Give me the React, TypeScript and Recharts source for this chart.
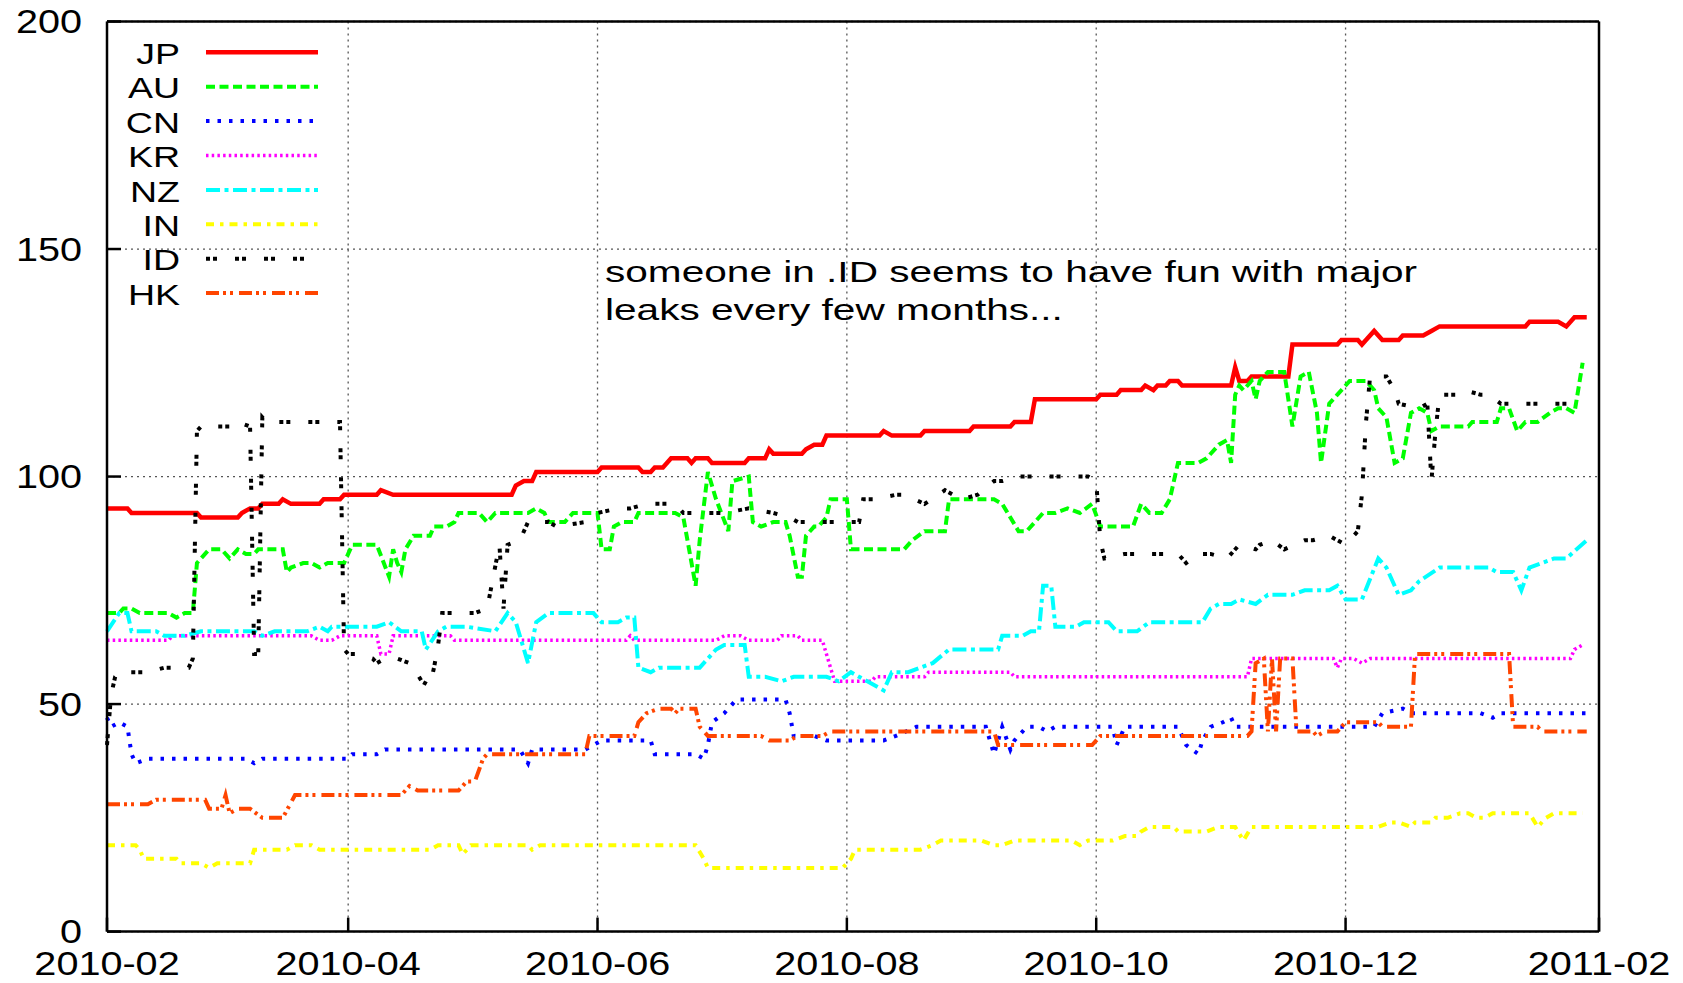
import { LineChart, Line, XAxis, YAxis, CartesianGrid } from "recharts";

// x = days since 2010-02-01
const monthTicks = [0, 59, 120, 181, 242, 303, 365];
const monthLabels = ["2010-02", "2010-04", "2010-06", "2010-08", "2010-10", "2010-12", "2011-02"];
const valueTicks = [0, 50, 100, 150, 200];

const JP: [number, number][] = [
  [0, 93], [5, 93], [6, 92], [22, 92], [23, 91], [32, 91], [33, 92], [35, 93], [37, 93], [38, 94], [42, 94],
  [43, 95], [45, 94], [52, 94], [53, 95], [57, 95], [58, 96], [66, 96], [67, 97], [70, 96], [99, 96], [100, 98],
  [102, 99], [104, 99], [105, 101], [120, 101], [121, 102], [130, 102], [131, 101], [133, 101], [134, 102],
  [136, 102], [138, 104], [142, 104], [143, 103], [144, 104], [147, 104], [148, 103], [156, 103], [157, 104],
  [161, 104], [162, 106], [163, 105], [170, 105], [171, 106], [173, 107], [175, 107], [176, 109], [189, 109],
  [190, 110], [192, 109], [199, 109], [200, 110], [211, 110], [212, 111], [221, 111], [222, 112], [226, 112],
  [227, 117], [242, 117], [243, 118], [247, 118], [248, 119], [253, 119], [254, 120], [256, 119], [257, 120],
  [259, 120], [260, 121], [262, 121], [263, 120], [275, 120], [276, 124], [277, 121], [279, 121], [280, 122],
  [289, 122], [290, 129], [301, 129], [302, 130], [306, 130], [307, 129], [308, 130], [310, 132], [312, 130],
  [316, 130], [317, 131], [322, 131], [324, 132], [326, 133], [347, 133], [348, 134], [355, 134], [357, 133],
  [359, 135], [362, 135],
];

const AU: [number, number][] = [
  [0, 70], [3, 70], [4, 71], [6, 71], [8, 70], [15, 70], [17, 69], [19, 70], [21, 70], [22, 81], [23, 82],
  [25, 84], [28, 84], [30, 82], [32, 84], [34, 83], [36, 83], [37, 84], [43, 84], [44, 79], [45, 80], [48, 81],
  [50, 81], [52, 80], [54, 81], [58, 81], [59, 83], [60, 85], [66, 85], [69, 78], [70, 84], [71, 81], [72, 79],
  [73, 84], [75, 87], [79, 87], [80, 89], [83, 89], [85, 90], [86, 92], [91, 92], [93, 90], [95, 92], [103, 92],
  [105, 93], [107, 92], [108, 90], [112, 90], [114, 92], [120, 92], [121, 84], [123, 84], [124, 89], [126, 90],
  [129, 90], [130, 92], [139, 92], [141, 91], [144, 76], [145, 86], [147, 101], [149, 95], [152, 88], [153, 99],
  [157, 100], [158, 90], [160, 89], [163, 90], [166, 90], [167, 87], [169, 78], [170, 78], [171, 87], [173, 89],
  [174, 89], [176, 91], [177, 95], [181, 95], [182, 84], [184, 84], [195, 84], [197, 86], [200, 88], [205, 88],
  [206, 95], [217, 95], [219, 94], [223, 88], [225, 88], [227, 90], [229, 92], [232, 92], [235, 93], [238, 92],
  [241, 94], [243, 89], [251, 89], [253, 94], [254, 93], [255, 92], [258, 92], [260, 95], [262, 103], [267, 103],
  [269, 104], [272, 107], [274, 108], [275, 103], [276, 118], [277, 120], [278, 119], [280, 121], [281, 117],
  [282, 121], [284, 123], [288, 123], [289, 117], [290, 111], [292, 122], [294, 123], [296, 114], [297, 103],
  [299, 116], [301, 118], [304, 121], [308, 121], [310, 119], [311, 115], [313, 113], [315, 103], [317, 104],
  [319, 114], [321, 115], [323, 114], [324, 110], [326, 111], [333, 111], [334, 112], [340, 112], [341, 115],
  [343, 115], [345, 110], [347, 112], [350, 112], [353, 114], [355, 115], [357, 115], [359, 114], [361, 125],
];

const CN: [number, number][] = [
  [0, 47], [1, 45], [3, 46], [5, 45], [6, 39], [7, 37], [10, 38], [34, 38], [36, 37], [38, 38], [59, 38],
  [60, 39], [66, 39], [68, 40], [86, 40], [101, 40], [103, 37], [104, 40], [117, 40], [119, 41], [121, 42],
  [133, 42], [134, 39], [144, 39], [146, 38], [147, 41], [148, 46], [151, 48], [153, 50], [154, 51], [166, 51],
  [167, 48], [168, 43], [173, 43], [176, 42], [190, 42], [193, 43], [198, 45], [215, 45], [217, 39], [219, 45],
  [221, 40], [222, 42], [225, 45], [228, 45], [230, 44], [232, 45], [246, 45], [247, 41], [249, 45], [262, 45],
  [264, 41], [267, 39], [268, 42], [270, 45], [273, 46], [275, 47], [276, 45], [310, 45], [312, 48], [317, 49],
  [319, 48], [336, 48], [339, 47], [341, 48], [362, 48],
];

const KR: [number, number][] = [
  [0, 64], [15, 64], [16, 65], [50, 65], [52, 64], [55, 64], [57, 65], [66, 65], [67, 61], [69, 61], [70, 65],
  [84, 65], [85, 64], [127, 64], [128, 65], [129, 64], [149, 64], [151, 65], [155, 65], [157, 64], [164, 64],
  [165, 65], [169, 65], [170, 64], [175, 64], [177, 58], [178, 55], [187, 55], [188, 56], [200, 56], [201, 57],
  [221, 57], [222, 56], [279, 56], [280, 60], [300, 60], [301, 58], [302, 60], [305, 60], [307, 59], [309, 60],
  [358, 60], [359, 62], [361, 63],
];

const NZ: [number, number][] = [
  [0, 66], [3, 70], [5, 70], [6, 66], [8, 66], [12, 66], [14, 65], [19, 65], [23, 66], [36, 66], [38, 65],
  [41, 66], [49, 66], [52, 67], [54, 66], [55, 67], [66, 67], [69, 68], [72, 66], [77, 66], [78, 62], [81, 66],
  [83, 67], [88, 67], [95, 66], [98, 70], [100, 68], [103, 59], [105, 68], [108, 70], [119, 70], [121, 68],
  [125, 68], [127, 69], [129, 69], [130, 58], [133, 57], [135, 58], [145, 58], [149, 62], [151, 63], [156, 63],
  [157, 56], [161, 56], [165, 55], [168, 56], [176, 56], [179, 55], [182, 57], [190, 53], [192, 57], [196, 57],
  [199, 58], [202, 59], [206, 62], [218, 62], [219, 65], [224, 65], [226, 66], [228, 66], [229, 76], [231, 76],
  [232, 67], [234, 67], [237, 67], [239, 68], [245, 68], [247, 66], [252, 66], [255, 68], [268, 68], [270, 71],
  [272, 72], [275, 72], [277, 73], [281, 72], [284, 74], [290, 74], [293, 75], [299, 75], [301, 76], [303, 73],
  [307, 73], [311, 82], [313, 80], [316, 74], [319, 75], [321, 77], [326, 80], [331, 80], [338, 80], [340, 79],
  [344, 79], [346, 75], [348, 80], [351, 81], [354, 82], [357, 82], [362, 86],
];

const IN: [number, number][] = [
  [0, 19], [7, 19], [8, 18], [9, 16], [17, 16], [18, 15], [23, 15], [25, 14], [27, 15], [35, 15], [36, 18],
  [44, 18], [46, 19], [50, 19], [52, 18], [79, 18], [81, 19], [86, 19], [87, 17], [89, 19], [103, 19], [104, 18],
  [106, 19], [144, 19], [146, 16], [147, 14], [180, 14], [182, 16], [183, 18], [199, 18], [202, 19], [204, 20],
  [214, 20], [217, 19], [219, 19], [222, 20], [236, 20], [238, 19], [240, 20], [246, 20], [249, 21], [252, 21],
  [253, 22], [255, 23], [261, 23], [262, 22], [269, 22], [272, 23], [276, 23], [278, 20], [280, 23], [311, 23],
  [314, 24], [316, 24], [319, 23], [320, 24], [324, 24], [325, 25], [328, 25], [331, 26], [333, 26], [335, 25],
  [337, 25], [339, 26], [348, 26], [350, 23], [352, 25], [354, 26], [361, 26],
];

const ID: [number, number][] = [
  [0, 41], [1, 52], [2, 56], [3, 57], [10, 57], [14, 58], [20, 58], [21, 60], [22, 110], [23, 111], [31, 111],
  [32, 112], [35, 111], [36, 61], [37, 61], [38, 113], [39, 112], [57, 112], [58, 62], [59, 61], [61, 61],
  [65, 60], [66, 59], [68, 60], [71, 60], [74, 59], [75, 58], [77, 55], [79, 54], [80, 58], [81, 63], [82, 70],
  [90, 70], [93, 71], [96, 85], [97, 71], [98, 85], [101, 86], [103, 90], [108, 90], [110, 89], [117, 90],
  [120, 92], [125, 93], [128, 93], [132, 94], [139, 94], [141, 92], [151, 92], [157, 93], [163, 92], [167, 91],
  [169, 90], [184, 90], [185, 95], [188, 95], [193, 96], [195, 96], [200, 94], [205, 97], [209, 95], [213, 96],
  [217, 99], [219, 99], [223, 100], [240, 100], [242, 99], [243, 86], [244, 82], [249, 83], [262, 83],
  [264, 81], [267, 83], [270, 83], [274, 82], [277, 85], [281, 84], [282, 85], [285, 86], [288, 84], [293, 86],
  [295, 86], [299, 87], [303, 85], [304, 86], [306, 88], [307, 96], [308, 112], [309, 122], [313, 122],
  [315, 119], [316, 116], [321, 115], [323, 116], [324, 99], [325, 110], [326, 118], [330, 118], [332, 119],
  [336, 118], [338, 118], [341, 116], [361, 116],
];

const HK: [number, number][] = [
  [0, 28], [10, 28], [12, 29], [24, 29], [25, 27], [28, 27], [29, 30], [30, 26], [32, 27], [35, 27], [38, 25],
  [43, 25], [46, 30], [72, 30], [74, 32], [76, 31], [86, 31], [88, 33], [90, 33], [92, 38], [93, 39], [117, 39],
  [118, 43], [129, 43], [130, 46], [132, 48], [135, 49], [138, 49], [139, 48], [140, 49], [144, 49], [145, 45],
  [147, 43], [160, 43], [162, 42], [167, 42], [169, 43], [175, 43], [177, 44], [217, 44], [218, 41], [241, 41],
  [243, 43], [279, 43], [280, 44], [281, 59], [283, 60], [284, 44], [285, 60], [286, 44], [287, 60], [290, 60],
  [291, 44], [295, 44], [296, 43], [298, 44], [301, 44], [303, 46], [311, 46], [312, 45], [319, 45], [320, 61],
  [343, 61], [344, 45], [350, 45], [351, 44], [362, 44],
];

const noteLines = ["someone in .ID seems to have fun with major", "leaks every few months..."];

const series = [
  { name: "JP", data: JP, color: "#ff0000", dash: undefined, width: 4.5 },
  { name: "AU", data: AU, color: "#00ff00", dash: "9 4.5", width: 4 },
  { name: "CN", data: CN, color: "#0000ff", dash: "3.5 8", width: 4 },
  { name: "KR", data: KR, color: "#ff00ff", dash: "2.5 3.2", width: 3.5 },
  { name: "NZ", data: NZ, color: "#00ffff", dash: "14 4.5 4 4.5", width: 4 },
  { name: "IN", data: IN, color: "#ffff00", dash: "8 6 3.5 6", width: 4 },
  { name: "ID", data: ID, color: "#000000", dash: "4 3 4 18", width: 4 },
  { name: "HK", data: HK, color: "#ff4500", dash: "13 4 3 4 3 6", width: 4 },
];

const FONT = "'Liberation Sans', Arial, sans-serif";
const W = 1683;
const H = 983;

const YTick = ({ x, y, payload }: any) => (
  <g transform={`translate(${x},${y}) scale(1.2,1)`}>
    <text textAnchor="end" dy="0.358em" fontSize={33} fontFamily={FONT} fill="#000">
      {payload.value}
    </text>
  </g>
);

const XTick = ({ x, y, payload }: any) => (
  <g transform={`translate(${x},${y}) scale(1.2,1)`}>
    <text textAnchor="middle" dy="0.716em" fontSize={33} fontFamily={FONT} fill="#000">
      {monthLabels[monthTicks.indexOf(payload.value)]}
    </text>
  </g>
);

export default function App() {
  return (
    <div style={{ position: "relative", width: W, height: H, margin: "-8px 0 0 -8px" }}>
      <LineChart width={W} height={H} margin={{ top: 20.5, right: 83, bottom: 5.4, left: 0 }}>
        <CartesianGrid stroke="#555" strokeWidth={1.3} strokeDasharray="2 4" />
        <XAxis
          dataKey="d"
          type="number"
          domain={[0, 365]}
          ticks={monthTicks}
          height={46}
          axisLine={{ stroke: "#000", strokeWidth: 2.5 }}
          tickLine={{ stroke: "#000", strokeWidth: 2.5 }}
          tickSize={-14}
          tickMargin={33.5}
          tick={<XTick />}
          interval={0}
        />
        <XAxis
          xAxisId="top"
          orientation="top"
          dataKey="d"
          type="number"
          domain={[0, 365]}
          ticks={monthTicks}
          height={1}
          axisLine={{ stroke: "#000", strokeWidth: 2.5 }}
          tickLine={{ stroke: "#000", strokeWidth: 2.5 }}
          tickSize={-12}
          tick={false}
          interval={0}
        />
        <YAxis
          type="number"
          domain={[0, 200]}
          ticks={valueTicks}
          width={107}
          axisLine={{ stroke: "#000", strokeWidth: 2.5 }}
          tickLine={{ stroke: "#000", strokeWidth: 2.5 }}
          tickSize={-14}
          tickMargin={39}
          tick={<YTick />}
          interval={0}
        />
        <YAxis
          yAxisId="right"
          orientation="right"
          type="number"
          domain={[0, 200]}
          ticks={valueTicks}
          width={1}
          axisLine={{ stroke: "#000", strokeWidth: 2.5 }}
          tickLine={{ stroke: "#000", strokeWidth: 2.5 }}
          tickSize={-14}
          tick={false}
          interval={0}
        />
        {series.map((s) => (
          <Line
            key={s.name}
            data={s.data.map(([d, v]) => ({ d, v }))}
            dataKey="v"
            name={s.name}
            type="linear"
            stroke={s.color}
            strokeWidth={s.width}
            strokeDasharray={s.dash}
            dot={false}
            activeDot={false}
            isAnimationActive={false}
          />
        ))}
      </LineChart>
      <svg
        width={W}
        height={H}
        style={{ position: "absolute", left: 0, top: 0, pointerEvents: "none" }}
      >
        {series.map((s, i) => {
          const base = 64 + i * 34.4;
          return (
            <g key={s.name}>
              <g transform={`translate(180,${base}) scale(1.25,1)`}>
                <text textAnchor="end" fontSize={30} fontFamily={FONT} fill="#000">
                  {s.name}
                </text>
              </g>
              <line
                x1={206}
                x2={318}
                y1={base - 11.7}
                y2={base - 11.7}
                stroke={s.color}
                strokeWidth={s.width}
                strokeDasharray={s.dash}
              />
            </g>
          );
        })}
        {noteLines.map((t, i) => (
          <g key={i} transform={`translate(605,${281.7 + i * 38.3}) scale(1.4,1)`}>
            <text fontSize={29} fontFamily={FONT} fill="#000">
              {t}
            </text>
          </g>
        ))}
      </svg>
    </div>
  );
}
